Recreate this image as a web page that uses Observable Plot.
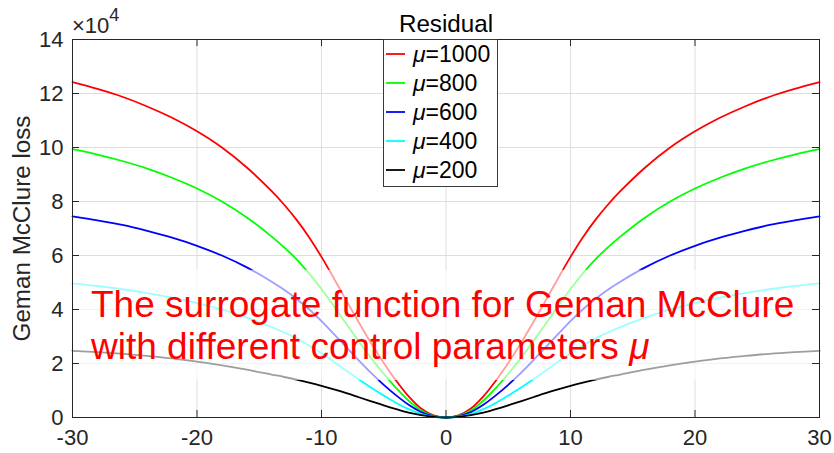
<!DOCTYPE html>
<html>
<head>
<meta charset="utf-8">
<script src="https://cdn.jsdelivr.net/npm/d3@7"></script>
<script src="https://cdn.jsdelivr.net/npm/@observablehq/plot@0.6"></script>
<style>
  html, body { margin: 0; padding: 0; background: #ffffff; }
</style>
</head>
<body>
<div id="chart"></div>
<script>
// ---------------- data (loss values in units of 10^4) ----------------
const residual = [-30,-28,-26,-24,-22,-20,-18,-16,-14,-13,-12,-11,-10,-9,-8,-7,-6,-5,-4,-3,-2,-1,
  0,1,2,3,4,5,6,7,8,9,10,11,12,13,14,16,18,20,22,24,26,28,30];

const muValues = [1000, 800, 600, 400, 200];

const lossMu1000 = [12.42,12.17,11.88,11.52,11.1,10.6,10.0,9.26,8.38,7.88,7.32,6.68,5.95,5.15,4.33,3.52,2.74,2.02,1.36,0.78,0.33,0.08,
  0,0.08,0.33,0.78,1.36,2.02,2.74,3.52,4.33,5.15,5.95,6.68,7.32,7.88,8.38,9.26,10.0,10.6,11.1,11.52,11.88,12.17,12.42];
const lossMu800 = [9.94,9.74,9.5,9.22,8.88,8.48,8.0,7.41,6.70,6.30,5.86,5.34,4.76,4.12,3.46,2.82,2.19,1.62,1.09,0.62,0.26,0.06,
  0,0.06,0.26,0.62,1.09,1.62,2.19,2.82,3.46,4.12,4.76,5.34,5.86,6.30,6.70,7.41,8.0,8.48,8.88,9.22,9.5,9.74,9.94];
const lossMu600 = [7.45,7.3,7.13,6.91,6.66,6.36,6.0,5.56,5.03,4.73,4.39,4.01,3.57,3.09,2.6,2.11,1.64,1.21,0.82,0.47,0.2,0.05,
  0,0.05,0.2,0.47,0.82,1.21,1.64,2.11,2.6,3.09,3.57,4.01,4.39,4.73,5.03,5.56,6.0,6.36,6.66,6.91,7.13,7.3,7.45];
const lossMu400 = [4.97,4.87,4.75,4.61,4.44,4.24,4.0,3.70,3.35,3.15,2.93,2.67,2.38,2.06,1.73,1.41,1.1,0.81,0.54,0.31,0.13,0.03,
  0,0.03,0.13,0.31,0.54,0.81,1.1,1.41,1.73,2.06,2.38,2.67,2.93,3.15,3.35,3.70,4.0,4.24,4.44,4.61,4.75,4.87,4.97];
const lossMu200 = [2.47,2.42,2.36,2.28,2.19,2.07,1.93,1.77,1.59,1.50,1.40,1.29,1.17,1.04,0.9,0.75,0.6,0.45,0.31,0.18,0.085,0.02,
  0,0.02,0.085,0.18,0.31,0.45,0.6,0.75,0.9,1.04,1.17,1.29,1.40,1.50,1.59,1.77,1.93,2.07,2.19,2.28,2.36,2.42,2.47];

const seriesColors = ["#ff0000", "#00ff00", "#0000ff", "#00ffff", "#000000"];
const xTicks = [-30, -20, -10, 0, 10, 20, 30];
const yTicks = [0, 2, 4, 6, 8, 10, 12, 14];
const noteLines = ["The surrogate function for Geman McClure", "with different control parameters "];

// ---------------- layout ----------------
const FONT = "'Liberation Sans', Arial, Helvetica, sans-serif";
const W = 834, H = 453;
const M = {left: 72, right: 15, top: 39, bottom: 36};
const plotW = W - M.left - M.right;
const plotH = H - M.top - M.bottom;
const TICK = 7;
const INK = "#262626";
const AXFONT = 22, LABFONT = 24.2, NOTEFONT = 37;
const band = {y1: 1.37, y2: 5.45};   // translucent panel behind the note (y units)
const legendBox = {x: 383, y: 39, w: 114, h: 147, first: 15, step: 29};

const lossSeries = [lossMu1000, lossMu800, lossMu600, lossMu400, lossMu200];
const rows = muValues.flatMap((mu, i) =>
  residual.map((r, j) => ({mu, r, loss: lossSeries[i][j]})));

function exponentMark(index, scales, values, dims) {
  const g = d3.create("svg:g").attr("text-anchor", "start");
  const t = g.append("text").attr("x", dims.marginLeft).attr("y", 33)
    .attr("font-family", FONT).attr("font-size", AXFONT).attr("fill", INK);
  t.append("tspan").text("×10");
  t.append("tspan").attr("dy", -12).attr("font-size", 18).text("4");
  return g.node();
}

function legendMark(index, scales, values, dims) {
  const L = legendBox;
  const g = d3.create("svg:g").attr("font-family", FONT).attr("font-size", 23).attr("text-anchor", "start");
  g.append("rect").attr("x", L.x + 0.5).attr("y", L.y + 0.5).attr("width", L.w).attr("height", L.h)
    .attr("fill", "#ffffff").attr("stroke", "#3a3a3a").attr("stroke-width", 1);
  muValues.forEach((mu, i) => {
    const cy = L.y + L.first + i * L.step;
    const col = scales.color ? scales.color(mu) : seriesColors[i];
    g.append("line").attr("x1", L.x + 3).attr("x2", L.x + 22).attr("y1", cy).attr("y2", cy)
      .attr("stroke", col).attr("stroke-width", 1.8);
    const t = g.append("text").attr("x", L.x + 30).attr("y", cy).attr("dy", "0.36em").attr("fill", "#000");
    t.append("tspan").attr("font-style", "italic").text("μ");
    t.append("tspan").text("=" + mu);
  });
  return g.node();
}

function noteMark(index, scales, values, dims) {
  const g = d3.create("svg:g").attr("font-family", FONT).attr("font-size", NOTEFONT)
    .attr("fill", "#ff0000").attr("text-anchor", "start");
  g.append("text").attr("x", 91).attr("y", 317).text(noteLines[0]);
  const t = g.append("text").attr("x", 91).attr("y", 359);
  t.append("tspan").text(noteLines[1]);
  t.append("tspan").attr("font-style", "italic").text("μ");
  return g.node();
}

const chart = Plot.plot({
  width: W, height: H,
  marginLeft: M.left, marginRight: M.right, marginTop: M.top, marginBottom: M.bottom,
  style: {fontFamily: FONT, fontSize: AXFONT + "px", color: INK, background: "#ffffff"},
  x: {domain: [-30, 30]},
  y: {domain: [0, 14]},
  color: {type: "ordinal", domain: muValues, range: seriesColors},
  marks: [
    Plot.gridX(xTicks, {stroke: "#dedede", strokeOpacity: 1}),
    Plot.gridY(yTicks, {stroke: "#dedede", strokeOpacity: 1}),
    Plot.line(rows, {x: "r", y: "loss", z: "mu", stroke: "mu", curve: "catmull-rom",
      strokeWidth: 1.8, strokeLinejoin: "round"}),
    Plot.rect([band], {y1: "y1", y2: "y2", fill: "#ffffff", fillOpacity: 0.62}),
    Plot.frame({stroke: INK, strokeWidth: 1}),
    Plot.tickX(xTicks, {x: d => d, stroke: INK, insetTop: plotH - TICK}),
    Plot.tickX(xTicks, {x: d => d, stroke: INK, insetBottom: plotH - TICK}),
    Plot.tickY(yTicks, {y: d => d, stroke: INK, insetRight: plotW - TICK}),
    Plot.tickY(yTicks, {y: d => d, stroke: INK, insetLeft: plotW - TICK}),
    Plot.axisX(xTicks, {tickSize: 0, tickPadding: 12, label: null, fontSize: AXFONT, fill: INK,
      tickFormat: d => String(d)}),
    Plot.axisY(yTicks, {tickSize: 0, tickPadding: 9, label: null, fontSize: AXFONT, fill: INK,
      tickFormat: d => String(d)}),
    Plot.text(["Geman McClure loss"], {frameAnchor: "left", dx: -50, rotate: -90, textAnchor: "middle",
      fontSize: LABFONT, fill: INK}),
    Plot.text(["Residual"], {frameAnchor: "top", dy: -25, textAnchor: "middle", fontSize: LABFONT, fill: "#000"}),
    exponentMark,
    noteMark,
    legendMark
  ]
});
document.getElementById("chart").appendChild(chart);
</script>
</body>
</html>
